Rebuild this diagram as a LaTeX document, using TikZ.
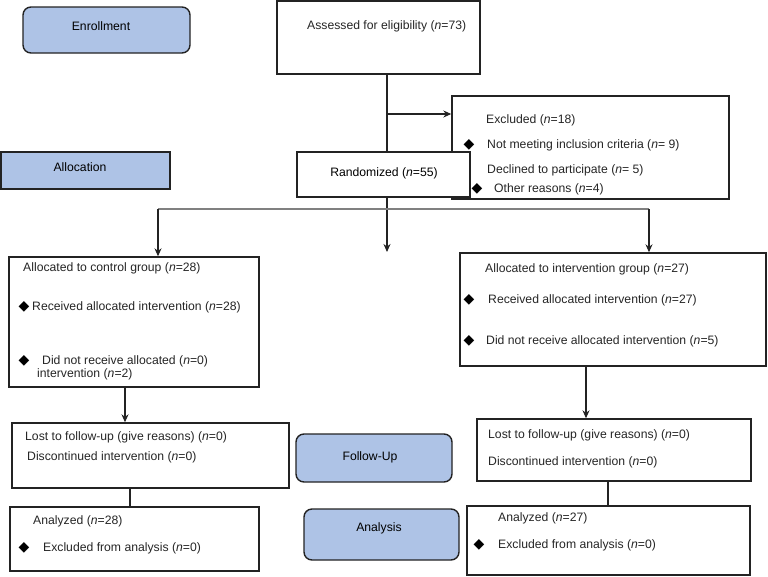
\documentclass[tikz,border=0pt]{standalone}
\usepackage{fontspec}
\setmainfont{Liberation Sans}
\newfontfamily\symfont{DejaVu Sans}
\usetikzlibrary{arrows.meta,positioning}
\definecolor{phaseblue}{RGB}{174,195,230}
\definecolor{boxline}{RGB}{35,35,35}

\begin{document}
\begin{tikzpicture}[x=1pt,y=-1pt,font=\fontsize{12.2}{14}\selectfont,
    box/.style={draw=boxline,line width=1.4pt,fill=white,inner sep=0pt},
    phase/.style={box,fill=phaseblue},
    lbl/.style={anchor=west,inner sep=0pt,text=black!85},
    bul/.style={inner sep=0pt,font=\symfont\fontsize{14}{16}\selectfont},
    conn/.style={line width=1.1pt,boxline},
    arr/.style={conn,-{Stealth[length=8pt,width=7pt]}}]

\useasboundingbox (0,0) rectangle (768,576);

%% phase labels
\node[phase,rounded corners=8pt,minimum width=167pt,minimum height=46pt] (enroll) at (106.5,30) {};
\node (enrolltxt) at (101,26) {Enrollment};
\node[phase,minimum width=169pt,minimum height=37pt] (alloc) at (85.5,170.5) {};
\node (alloctxt) at (80,167) {Allocation};
\node[phase,rounded corners=8pt,minimum width=156pt,minimum height=48pt] (fu) at (374,458) {};
\node (futxt) at (370,457) {Follow-Up};
\node[phase,rounded corners=8pt,minimum width=155pt,minimum height=51pt] (an) at (381.5,534.5) {};
\node (antxt) at (379,528) {Analysis};

%% enrollment
\node[box,minimum width=203pt,minimum height=73pt] (assess) at (378.5,37.5) {};
\node[lbl] (assesstxt) at (307,26) {Assessed for eligibility (\textit{n}=73)};

% excluded
\node[box,minimum width=277pt,minimum height=103pt] (excl) at (590.5,147.5) {};
\node[lbl] (excl1) at (486,120) {Excluded (\textit{n}=18)};
\node[bul] (exclb1) at (469,145) {◆};
\node[lbl] (excl2) at (487,145) {Not meeting inclusion criteria (\textit{n}= 9)};
\node[lbl] (excl3) at (487,170) {Declined to participate (\textit{n}= 5)};
\node[bul] (exclb2) at (477,189) {◆};
\node[lbl] (excl4) at (494,189) {Other reasons (\textit{n}=4)};

\node[box,minimum width=173pt,minimum height=45pt] (rand) at (383.5,174.5) {};
\node (randtxt) at (384,173) {Randomized (\textit{n}=55)};

%% allocation
\node[box,minimum width=250pt,minimum height=130pt] (ctrl) at (134,322) {};
\node[lbl] (ctrl1) at (23,268) {Allocated to control group (\textit{n}=28)};
\node[bul] (ctrlb1) at (24,307) {◆};
\node[lbl] (ctrl2) at (32,307) {Received allocated intervention (\textit{n}=28)};
\node[bul] (ctrlb2) at (24,361) {◆};
\node[lbl] (ctrl3) at (42,361) {Did not receive allocated (\textit{n}=0)};
\node[lbl] (ctrl4) at (37,374) {intervention (\textit{n}=2)};

\node[box,minimum width=306pt,minimum height=113pt] (intv) at (613,309.5) {};
\node[lbl] (intv1) at (485,269) {Allocated to intervention group (\textit{n}=27)};
\node[bul] (intvb1) at (469,300) {◆};
\node[lbl] (intv2) at (488,300) {Received allocated intervention (\textit{n}=27)};
\node[bul] (intvb2) at (469,341) {◆};
\node[lbl] (intv3) at (486,341) {Did not receive allocated intervention (\textit{n}=5)};

%% follow-up
\node[box,minimum width=277pt,minimum height=65pt] (ctrlfu) at (150.5,455.5) {};
\node[lbl] (ctrlfu1) at (25,437) {Lost to follow-up (give reasons) (\textit{n}=0)};
\node[lbl] (ctrlfu2) at (27,457) {Discontinued intervention (\textit{n}=0)};

\node[box,minimum width=274pt,minimum height=62pt] (intvfu) at (614,450) {};
\node[lbl] (intvfu1) at (488,435) {Lost to follow-up (give reasons) (\textit{n}=0)};
\node[lbl] (intvfu2) at (488,462) {Discontinued intervention (\textit{n}=0)};

%% analysis
\node[box,minimum width=249pt,minimum height=64pt] (ctrlan) at (134.5,539) {};
\node[lbl] (ctrlan1) at (33,521) {Analyzed (\textit{n}=28)};
\node[bul] (ctrlanb) at (24,548) {◆};
\node[lbl] (ctrlan2) at (43,548) {Excluded from analysis (\textit{n}=0)};

\node[box,minimum width=283pt,minimum height=69pt] (intvan) at (608.5,540.5) {};
\node[lbl] (intvan1) at (498,518) {Analyzed (\textit{n}=27)};
\node[bul] (intvanb) at (479,545) {◆};
\node[lbl] (intvan2) at (498,545) {Excluded from analysis (\textit{n}=0)};

%% connectors
\coordinate (trunk) at (387,114);
\coordinate (lsplit) at (158,209);
\coordinate (rsplit) at (649,209);
\coordinate (midend) at (387,252);

\draw[conn] (assess.south -| trunk) -- (rand.north -| trunk);
\draw[arr] (trunk) -- (excl.west |- trunk);
\draw[arr] (rand.south -| trunk) -- (midend);
\draw[conn,gray] (lsplit) -- (rsplit);
\draw[arr] (lsplit) -- (lsplit |- ctrl.north);
\draw[arr] (rsplit) -- (rsplit |- intv.north);
\draw[arr] ([xshift=-9pt]ctrl.south) -- ([xshift=-9pt]ctrl.south |- ctrlfu.north);
\draw[arr] ([xshift=-27pt]intv.south) -- ([xshift=-27pt]intv.south |- intvfu.north);
\draw[conn] ([xshift=-20.5pt]ctrlfu.south) -- ([xshift=-20.5pt]ctrlfu.south |- ctrlan.north);
\draw[conn] ([xshift=-6pt]intvfu.south) -- ([xshift=-6pt]intvfu.south |- intvan.north);

\end{tikzpicture}
\end{document}
